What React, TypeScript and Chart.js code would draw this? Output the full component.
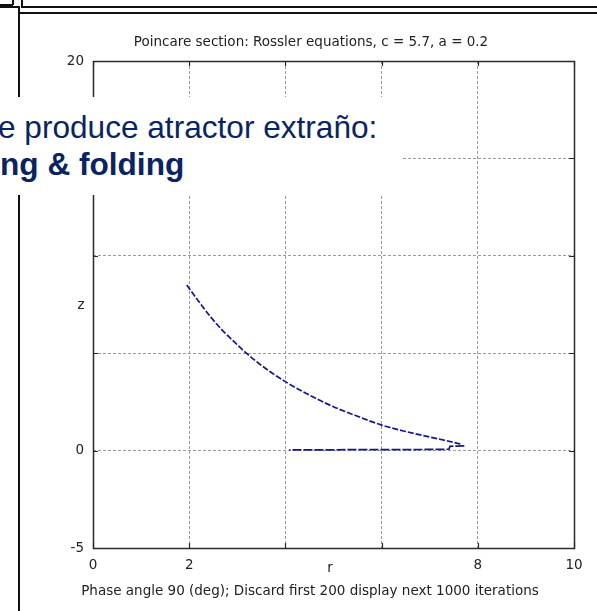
import React, { useEffect, useRef } from "react";
import { Chart, registerables } from "chart.js";

Chart.register(...registerables);

// ---- data ----
const upperR = [1.95, 2.2, 2.45, 2.7, 2.95, 3.19, 3.45, 3.7, 4.0, 4.3, 4.6, 5.0, 5.5, 6.0, 6.5, 7.0, 7.4, 7.67];
const upperZ = [8.5, 7.65, 6.85, 6.15, 5.55, 5.0, 4.47, 4.02, 3.54, 3.11, 2.72, 2.25, 1.76, 1.31, 0.98, 0.7, 0.48, 0.32];
const lowerR = [7.72, 7.42, 7.4, 7.0, 6.5, 6.0, 5.5, 5.0, 4.5, 4.08];
const lowerZ = [0.24, 0.22, 0.07, 0.06, 0.05, 0.05, 0.05, 0.04, 0.04, 0.04];

const xTickValues = [0, 2, 4, 6, 8, 10];
const xTickLabels = ["0", "2", "", "", "8", "10"];
const yTickValues = [-5, 0, 5, 10, 15, 20];
const yTickLabels = ["-5", "0", "", "", "", "20"];

const titleText = "Poincare section: Rossler equations, c = 5.7, a = 0.2";
const captionText = "Phase angle 90 (deg); Discard first 200 display next 1000 iterations";
const xTitle = "r";
const yTitle = "z";
const overlayLine1 = "e produce atractor extraño:";
const overlayLine2 = "ng & folding";

const SMALL_FONT = "'DejaVu Sans', Verdana, sans-serif";
const SLIDE_FONT = "'Liberation Sans', Arial, Helvetica, sans-serif";
const LINE_COLOR = "#16168c";

const boxPlugin = {
  id: "matlabBox",
  afterDraw(chart: any) {
    const { ctx, chartArea } = chart;
    const xs = chart.scales.x;
    const ys = chart.scales.y;
    ctx.save();
    ctx.strokeStyle = "#2a2a2a";
    ctx.lineWidth = 1.2;
    ctx.setLineDash([]);
    const tl = 5;
    ctx.beginPath();
    xTickValues.forEach((v) => {
      const px = Math.round(xs.getPixelForValue(v)) + 0.5;
      ctx.moveTo(px, chartArea.bottom);
      ctx.lineTo(px, chartArea.bottom - tl);
      ctx.moveTo(px, chartArea.top);
      ctx.lineTo(px, chartArea.top + tl);
    });
    yTickValues.forEach((v) => {
      const py = Math.round(ys.getPixelForValue(v)) + 0.5;
      ctx.moveTo(chartArea.left, py);
      ctx.lineTo(chartArea.left + tl, py);
      ctx.moveTo(chartArea.right, py);
      ctx.lineTo(chartArea.right - tl, py);
    });
    ctx.stroke();
    ctx.lineWidth = 1.5;
    ctx.strokeRect(
      Math.round(chartArea.left) + 0.5,
      Math.round(chartArea.top) + 0.5,
      Math.round(chartArea.right - chartArea.left),
      Math.round(chartArea.bottom - chartArea.top)
    );
    ctx.restore();
  },
};

export default function App() {
  const ref = useRef<HTMLCanvasElement | null>(null);

  useEffect(() => {
    if (!ref.current) return;
    const upper = upperR.map((r, i) => ({ x: r, y: upperZ[i] }));
    const lower = lowerR.map((r, i) => ({ x: r, y: lowerZ[i] }));
    const chart = new Chart(ref.current, {
      type: "scatter",
      data: {
        datasets: [
          {
            data: upper,
            showLine: true,
            borderColor: LINE_COLOR,
            borderWidth: 1.7,
            borderDash: [6, 2],
            pointRadius: 0,
            cubicInterpolationMode: "monotone",
          },
          {
            data: lower,
            showLine: true,
            borderColor: LINE_COLOR,
            borderWidth: 1.7,
            borderDash: [9, 2],
            pointRadius: 0,
          },
        ],
      },
      options: {
        animation: false,
        responsive: false,
        layout: { padding: { top: 61, right: 23, left: 0, bottom: 0 } },
        plugins: { legend: { display: false }, tooltip: { enabled: false }, title: { display: false } },
        scales: {
          x: {
            type: "linear",
            min: 0,
            max: 10,
            afterFit: (s: any) => {
              s.height = 63;
            },
            afterBuildTicks: (s: any) => {
              s.ticks = xTickValues.map((v) => ({ value: v }));
            },
            ticks: {
              autoSkip: false,
              maxRotation: 0,
              padding: 9,
              color: "#222",
              font: { family: SMALL_FONT, size: 13.5 },
              callback: (_v: any, i: number) => xTickLabels[i],
            },
            grid: {
              color: "#999",
              lineWidth: 1,
              drawTicks: false,
            },
            border: { display: false, dash: [3, 2] },
          },
          y: {
            type: "linear",
            min: -5,
            max: 20,
            afterFit: (s: any) => {
              s.width = 93;
            },
            afterBuildTicks: (s: any) => {
              s.ticks = yTickValues.map((v) => ({ value: v }));
            },
            ticks: {
              autoSkip: false,
              padding: 9,
              color: "#222",
              font: { family: SMALL_FONT, size: 13.5 },
              callback: (_v: any, i: number) => yTickLabels[i],
            },
            grid: {
              color: "#999",
              lineWidth: 1,
              drawTicks: false,
            },
            border: { display: false, dash: [3, 2] },
          },
        },
      },
      plugins: [boxPlugin],
    });
    return () => chart.destroy();
  }, []);

  const line = (l: number, t: number, w: number, h: number) => (
    <div style={{ position: "absolute", left: l, top: t, width: w, height: h, background: "#111" }} />
  );

  const textStyle: React.CSSProperties = {
    position: "absolute",
    fontFamily: SMALL_FONT,
    fontSize: 13.5,
    color: "#222",
    whiteSpace: "nowrap",
    lineHeight: "16px",
  };

  return (
    <div
      style={{
        position: "absolute",
        left: 0,
        top: 0,
        width: 597,
        height: 611,
        background: "#fff",
        overflow: "hidden",
      }}
    >
      <canvas ref={ref} width={597} height={611} style={{ position: "absolute", left: 0, top: 0 }} />
      {line(0, 4, 13, 1.5)}
      {line(12, 0, 1.5, 5)}
      {line(0, 6, 19, 1.5)}
      {line(18, 6, 2, 605)}
      {line(21, 0, 1.5, 7)}
      {line(21, 6, 576, 1.5)}
      {line(18, 12, 579, 2)}
      <div style={{ ...textStyle, left: 311, top: 33, transform: "translateX(-50%)" }}>{titleText}</div>
      <div style={{ ...textStyle, left: 330, top: 559, transform: "translateX(-50%)" }}>{xTitle}</div>
      <div style={{ ...textStyle, left: 81, top: 296, transform: "translateX(-50%)" }}>{yTitle}</div>
      <div style={{ ...textStyle, left: 310, top: 582, transform: "translateX(-50%)" }}>{captionText}</div>
      <div
        style={{
          position: "absolute",
          left: 0,
          top: 97,
          width: 402,
          height: 98,
          background: "#fff",
          overflow: "hidden",
        }}
      >
        <div
          style={{
            position: "absolute",
            left: -2,
            top: 14.5,
            fontFamily: SLIDE_FONT,
            fontSize: 31.6,
            lineHeight: "31px",
            color: "#0a2463",
            whiteSpace: "nowrap",
          }}
        >
          {overlayLine1}
        </div>
        <div
          style={{
            position: "absolute",
            left: 0,
            top: 51.5,
            fontFamily: SLIDE_FONT,
            fontSize: 31.6,
            fontWeight: "bold",
            lineHeight: "31px",
            color: "#0a2463",
            whiteSpace: "nowrap",
          }}
        >
          {overlayLine2}
        </div>
      </div>
    </div>
  );
}
